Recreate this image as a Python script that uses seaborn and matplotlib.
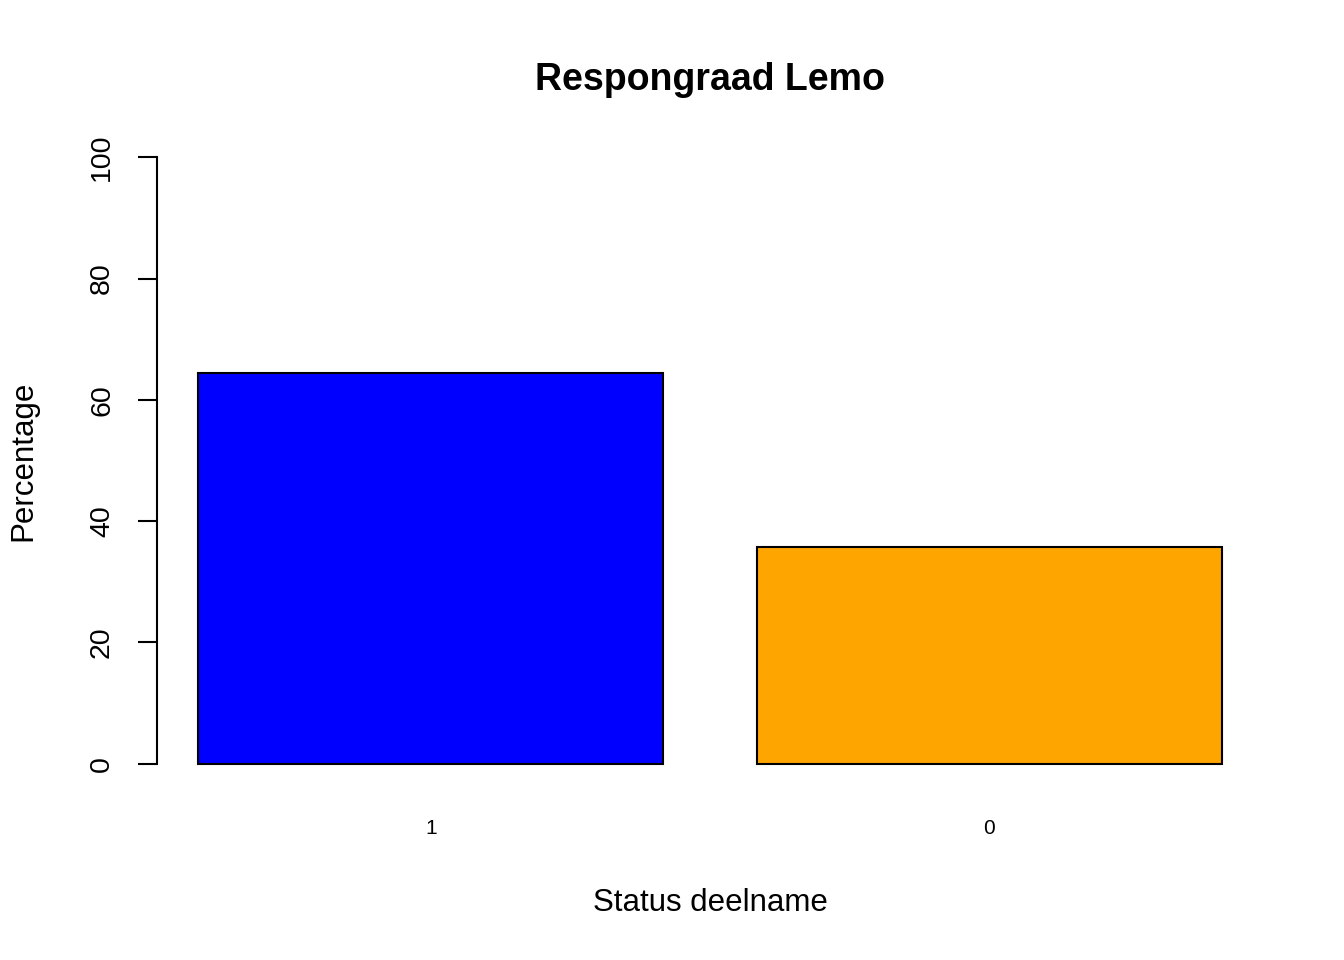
import matplotlib
matplotlib.use("Agg")
import matplotlib.pyplot as plt
import seaborn as sns
import pandas as pd

# =====================================================
# Data
# =====================================================

status = ["1", "0"]
percentage = [64.4, 35.7]
bar_colors = ["blue", "orange"]

df = pd.DataFrame({"status": status, "percentage": percentage})

# =====================================================
# Plot
# =====================================================

sns.set_style("white")
plt.rcParams["font.family"] = ["Liberation Sans", "DejaVu Sans"]
plt.rcParams["text.color"] = "black"
plt.rcParams["axes.labelcolor"] = "black"
plt.rcParams["xtick.color"] = "black"
plt.rcParams["ytick.color"] = "black"

fig = plt.figure(figsize=(13.44, 9.6), dpi=100)
ax = fig.add_axes([157 / 1344, 172 / 960, 1106 / 1344, 655 / 960])

sns.barplot(
    data=df,
    x="status",
    y="percentage",
    hue="status",
    order=status,
    hue_order=status,
    palette=bar_colors,
    legend=False,
    width=1 / 1.2,
    saturation=1,
    edgecolor="black",
    linewidth=1.5,
    ax=ax,
)

ax.set_xlim(-0.49, 1.49)
ax.set_ylim(-4, 104)
ax.set_yticks([0, 20, 40, 60, 80, 100])

for side in ["top", "right", "bottom"]:
    ax.spines[side].set_visible(False)
ax.spines["left"].set_bounds(0, 100)
ax.spines["left"].set_linewidth(1.5)
ax.spines["left"].set_color("black")

ax.tick_params(axis="y", left=True, length=13.7, width=1.5, color="black",
               labelcolor="black", labelsize=20.5, pad=16.5, labelrotation=90)
for lab in ax.get_yticklabels():
    lab.set_verticalalignment("center")
ax.tick_params(axis="x", length=0, labelsize=15, pad=22, labelcolor="black")

ax.set_xlabel("Status deelname", fontsize=22.5, color="black")
ax.set_ylabel("Percentage", fontsize=22.5, color="black")
ax.xaxis.set_label_coords(0.5, -0.152)
ax.yaxis.set_label_coords(-0.1076, 0.5)

ax.set_title("Respongraad Lemo", fontsize=27, fontweight="bold", y=1.081,
             va="center", pad=0, color="black")

fig.savefig("out.png", dpi=100)
plt.close(fig)
